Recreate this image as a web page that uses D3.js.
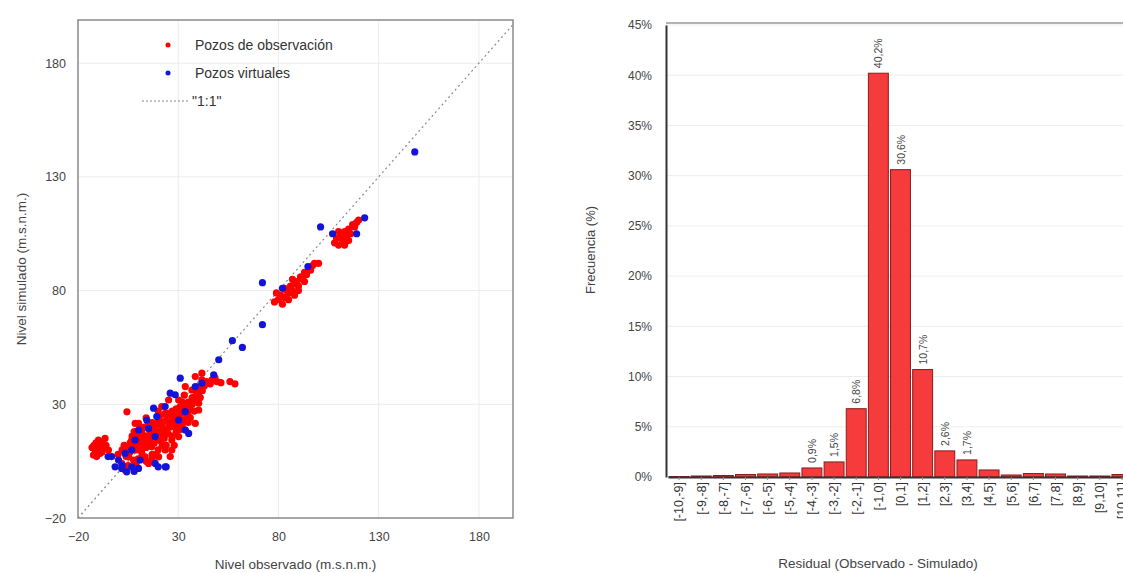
<!DOCTYPE html>
<html>
<head>
<meta charset="utf-8">
<script src="https://cdn.jsdelivr.net/npm/d3@7"></script>
<style>
  body { margin: 0; background: #fff; }
  svg { display: block; font-family: "Liberation Sans", Arial, sans-serif; }
</style>
</head>
<body>
<svg id="chart" width="1123" height="573"></svg>
<script>
// scatter: observed vs simulated levels
const obsTicks = [-20, 30, 80, 130, 180];

const pozosObservacion = [
  [-11.5, 9.9], [-9, 8.4], [-9.8, 14.3], [-6.5, 15], [-7.3, 11.3], [-10.7, 7], [-12.3, 7.7], [-4.8, 9.9],
  [-13, 11], [-8, 13], [4.4, 26.7], [-12, 12], [-11, 13], [-10, 11], [-9, 10], [-8, 9], [-11, 8], [-6, 12],
  [1.8, 4.0], [5.2, 6.9], [8.5, 9.9], [6.8, 14.3], [10.2, 17.2], [11.8, 12.8], [15.2, 15.8], [16.8, 20.2],
  [20.2, 23.1], [18.5, 14.3], [21.8, 17.2], [25.2, 21.6], [23.5, 26.0], [26.8, 24.6], [30.2, 27.5], [28.5, 20.2],
  [31.8, 23.1], [33.5, 29.0], [35.2, 24.6], [36.8, 30.5], [38.5, 33.4], [40.2, 27.5], [36.8, 36.3], [40.2, 37.8],
  [41.8, 40.8], [45.2, 39.3], [46.8, 40.8], [49.3, 40.0], [8.5, 21.6], [10.2, 21.6], [13.5, 6.9], [16.8, 11.3],
  [23.5, 9.9], [26.8, 14.3], [30.2, 15.8], [33.5, 18.7], [38.5, 21.6], [26.8, 9.9], [20.2, 6.9], [15.2, 4.0],
  [3.5, 1.1], [7.7, 5.5], [11.8, 9.9], [21.8, 29.0], [25.2, 31.9], [30.2, 31.9], [40.2, 30.5], [33.5, 37.8],
  [38.5, 42.2], [41.8, 43.7], [51.3, 39.5], [55.8, 40], [58.3, 39], [48.3, 41.7],
  [12, 19], [14, 24], [17, 17], [19, 21], [22, 12], [24, 19], [27, 27], [29, 18], [32, 21], [34, 26],
  [36, 28], [37, 33], [9, 12], [13, 15], [17, 8], [20, 10], [23, 15], [28, 12], [31, 25], [35, 31],
  [6, 9], [10, 6], [14, 11], [18, 13], [22, 20], [25, 17], [29, 23], [33, 34], [39, 36], [43, 38],
  [0, 8], [2, 10], [3, 12], [4, 7], [5, 11], [6, 13], [7, 16], [8, 18], [9, 15], [10, 10], [11, 14],
  [12, 17], [13, 20], [14, 16], [15, 13], [16, 18], [17, 22], [18, 19], [19, 16], [20, 18], [21, 25],
  [22, 22], [23, 18], [24, 23], [25, 26], [26, 20], [27, 22], [28, 25], [29, 28], [30, 21], [31, 29],
  [32, 27], [33, 23], [34, 29], [35, 27], [36, 24], [37, 30], [38, 27], [39, 32], [40, 34], [42, 36],
  [44, 40], [46, 39], [12, 8], [16, 14], [19, 8], [21, 14], [24, 12], [27, 16], [31, 19], [35, 22],
  [5, 3], [9, 4], [14, 5], [17, 6], [26, 7], [7, 11], [11, 19], [15, 22], [20, 27], [32, 31], [41, 33],
  [78, 75], [80, 76], [81, 78], [83, 77], [84, 80], [85, 79], [86, 82], [87, 80], [88, 83], [89, 84],
  [90, 82], [91, 86], [92, 85], [93, 88], [94, 87], [95, 90], [96, 89], [97, 91], [98, 92], [82, 74],
  [85, 76], [88, 78], [90, 80], [87, 85], [93, 84], [79, 79], [100, 92], [83, 81],
  [108, 101], [109, 103], [110, 100], [111, 104], [112, 102], [113, 106], [114, 104], [115, 107],
  [116, 105], [117, 109], [118, 108], [119, 110], [110, 106], [113, 100], [120, 111], [115, 102]
];

const pozosVirtuales = [
  [50.2, 49.6], [47.7, 43.0], [31, 41.5], [41.8, 39.3], [26, 34.9], [28.5, 34.2], [17.7, 28.3], [19.3, 24.6],
  [14.3, 23.1], [15.2, 19.4], [10.2, 18.7], [23.5, 29], [33.5, 26.8], [33.5, 18.7], [35.2, 17.2], [18.5, 15.8],
  [8.5, 14.3], [6.8, 9.9], [-3.2, 7.0], [0.2, 5.5], [1.8, 1.8], [4.3, 0.3], [6.8, 2.5], [10.2, 1.8],
  [18.5, 4.0], [23.5, 2.5], [-1.5, 2.5], [3.5, 8.4], [38.5, 37.8], [11, 5.5], [30.2, 23.1], [-5, 7],
  [20, 2.5], [24, 2.5], [2, 3], [8, 0.5],
  [57, 58], [62, 55], [72, 65], [72, 83.5], [82, 81], [94.7, 90.6], [101, 108], [107, 105],
  [119, 105], [123, 112], [148, 141]
];

// histogram of residuals
const residualBins = ["[-10,-9]", "[-9,-8]", "[-8,-7]", "[-7,-6]", "[-6,-5]", "[-5,-4]", "[-4,-3]",
  "[-3,-2]", "[-2,-1]", "[-1,0]", "[0,1]", "[1,2]", "[2,3]", "[3,4]", "[4,5]", "[5,6]", "[6,7]",
  "[7,8]", "[8,9]", "[9,10]", "[10,11]"];
const residualFreq = [0.05, 0.1, 0.15, 0.25, 0.3, 0.4, 0.9, 1.5, 6.8, 40.2, 30.6, 10.7, 2.6, 1.7,
  0.7, 0.2, 0.35, 0.3, 0.1, 0.1, 0.25];
const freqLabels = [null, null, null, null, null, null, "0,9%", "1,5%", "6,8%", "40,2%", "30,6%",
  "10,7%", "2,6%", "1,7%", null, null, null, null, null, null, null];
const freqTicks = [0, 5, 10, 15, 20, 25, 30, 35, 40, 45];

const svg = d3.select("#chart");
const textColor = "#444";

// ---------- left: scatter ----------
const sc = {left: 78, right: 513, top: 20, bottom: 518};

const x = d3.scaleLinear().domain([-20, 197]).range([sc.left, sc.right]);
const y = d3.scaleLinear().domain([-20, 199]).range([sc.bottom, sc.top]);

const gL = svg.append("g");

gL.append("g")
    .selectAll("line")
    .data(obsTicks.slice(1))
    .join("line")
    .attr("x1", d => x(d)).attr("x2", d => x(d))
    .attr("y1", sc.top).attr("y2", sc.bottom)
    .attr("stroke", "#ececec");

gL.append("g")
    .selectAll("line")
    .data(obsTicks.slice(1))
    .join("line")
    .attr("x1", sc.left).attr("x2", sc.right)
    .attr("y1", d => y(d)).attr("y2", d => y(d))
    .attr("stroke", "#ececec");

// 1:1 line
gL.append("line")
    .attr("x1", x(-20)).attr("y1", y(-20))
    .attr("x2", x(197)).attr("y2", y(197))
    .attr("stroke", "#888")
    .attr("stroke-width", 1.2)
    .attr("stroke-dasharray", "2,3");

gL.append("g")
    .selectAll("circle")
    .data(pozosObservacion)
    .join("circle")
    .attr("cx", d => x(d[0]))
    .attr("cy", d => y(d[1]))
    .attr("r", 3.6)
    .attr("fill", "#ff0000");

gL.append("g")
    .selectAll("circle")
    .data(pozosVirtuales)
    .join("circle")
    .attr("cx", d => x(d[0]))
    .attr("cy", d => y(d[1]))
    .attr("r", 3.6)
    .attr("fill", "#1414d8");

gL.append("rect")
    .attr("x", sc.left).attr("y", sc.top)
    .attr("width", sc.right - sc.left).attr("height", sc.bottom - sc.top)
    .attr("fill", "none")
    .attr("stroke", "#8a8a8a")
    .attr("stroke-width", 1.5);

const xAxis = g => g
    .attr("transform", `translate(0,${sc.bottom})`)
    .call(d3.axisBottom(x).tickValues(obsTicks).tickSize(0).tickPadding(14))
    .call(g => g.select(".domain").remove())
    .call(g => g.selectAll("text").attr("fill", textColor).attr("font-size", 12.5));

const yAxis = g => g
    .attr("transform", `translate(${sc.left},0)`)
    .call(d3.axisLeft(y).tickValues(obsTicks).tickSize(0).tickPadding(12))
    .call(g => g.select(".domain").remove())
    .call(g => g.selectAll("text").attr("fill", textColor).attr("font-size", 12.5));

gL.append("g").call(xAxis);
gL.append("g").call(yAxis);

gL.append("text")
    .attr("x", (sc.left + sc.right) / 2)
    .attr("y", 569)
    .attr("text-anchor", "middle")
    .attr("font-size", 13.5)
    .attr("fill", textColor)
    .text("Nivel observado (m.s.n.m.)");

gL.append("text")
    .attr("transform", `translate(26,${(sc.top + sc.bottom) / 2}) rotate(-90)`)
    .attr("text-anchor", "middle")
    .attr("font-size", 13.5)
    .attr("fill", textColor)
    .text("Nivel simulado (m.s.n.m.)");

// legend
const legend = gL.append("g");
legend.append("circle").attr("cx", 168).attr("cy", 45).attr("r", 2.5).attr("fill", "#ff0000");
legend.append("text").attr("x", 195).attr("y", 50).attr("font-size", 14).attr("fill", "#333")
    .text("Pozos de observación");
legend.append("circle").attr("cx", 168).attr("cy", 73).attr("r", 2.5).attr("fill", "#1414d8");
legend.append("text").attr("x", 195).attr("y", 78).attr("font-size", 14).attr("fill", "#333")
    .text("Pozos virtuales");
legend.append("line").attr("x1", 142).attr("x2", 188).attr("y1", 101).attr("y2", 101)
    .attr("stroke", "#888").attr("stroke-width", 1.2).attr("stroke-dasharray", "2,2");
legend.append("text").attr("x", 192).attr("y", 106).attr("font-size", 14).attr("fill", "#333")
    .text("\"1:1\"");

// ---------- right: histogram ----------
const hc = {left: 666, right: 1133, top: 23, bottom: 477};

const xb = d3.scaleBand().domain(residualBins).range([hc.left + 2, hc.right]).paddingInner(0.1).paddingOuter(0.05);
const yb = d3.scaleLinear().domain([0, 45]).range([hc.bottom, 25]);

const gR = svg.append("g");

gR.append("g")
    .selectAll("line")
    .data(freqTicks.slice(1))
    .join("line")
    .attr("x1", hc.left).attr("x2", hc.right)
    .attr("y1", d => yb(d)).attr("y2", d => yb(d))
    .attr("stroke", "#ededed");

gR.append("line")
    .attr("x1", hc.left).attr("x2", hc.right)
    .attr("y1", hc.top).attr("y2", hc.top)
    .attr("stroke", "#9a9a9a")
    .attr("stroke-width", 1.5);

gR.append("g")
    .selectAll("rect")
    .data(residualBins)
    .join("rect")
    .attr("x", d => xb(d))
    .attr("y", (d, i) => yb(residualFreq[i]))
    .attr("width", xb.bandwidth())
    .attr("height", (d, i) => hc.bottom - yb(residualFreq[i]))
    .attr("fill", "#f53b3b")
    .attr("stroke", "#8a1c1c")
    .attr("stroke-width", 1);

gR.append("g")
    .selectAll("text")
    .data(residualBins.filter((d, i) => freqLabels[i]))
    .join("text")
    .attr("transform", d => {
        const i = residualBins.indexOf(d);
        return `translate(${xb(d) + xb.bandwidth() / 2 + 4},${yb(residualFreq[i]) - 5}) rotate(-90)`;
    })
    .attr("font-size", 10.5)
    .attr("fill", textColor)
    .text(d => freqLabels[residualBins.indexOf(d)]);

const xbAxis = g => g
    .attr("transform", `translate(0,${hc.bottom})`)
    .call(d3.axisBottom(xb).tickSize(3).tickSizeOuter(0))
    .call(g => g.select(".domain").attr("stroke", "#333").attr("stroke-width", 2))
    .call(g => g.selectAll(".tick line").attr("stroke", "#888"))
    .call(g => g.selectAll("text")
        .attr("font-size", 12.5)
        .attr("fill", "#333")
        .attr("text-anchor", "end")
        .attr("dy", "0.35em")
        .attr("transform", "translate(0,5) rotate(-90)")
        .attr("x", 0)
        .attr("y", 0));

const ybAxis = g => g
    .attr("transform", `translate(${hc.left},0)`)
    .call(d3.axisLeft(yb).tickValues(freqTicks).tickFormat(d => d + "%").tickSize(0).tickPadding(14))
    .call(g => g.select(".domain").attr("stroke", "#333").attr("stroke-width", 2))
    .call(g => g.selectAll("text").attr("fill", textColor).attr("font-size", 12));

gR.append("g").call(xbAxis);
gR.append("g").call(ybAxis);

gR.append("text")
    .attr("x", 878)
    .attr("y", 568)
    .attr("text-anchor", "middle")
    .attr("font-size", 13.5)
    .attr("fill", textColor)
    .text("Residual (Observado  - Simulado)");

gR.append("text")
    .attr("transform", `translate(595,${(hc.top + hc.bottom) / 2}) rotate(-90)`)
    .attr("text-anchor", "middle")
    .attr("font-size", 13)
    .attr("fill", textColor)
    .text("Frecuencia (%)");
</script>
</body>
</html>
